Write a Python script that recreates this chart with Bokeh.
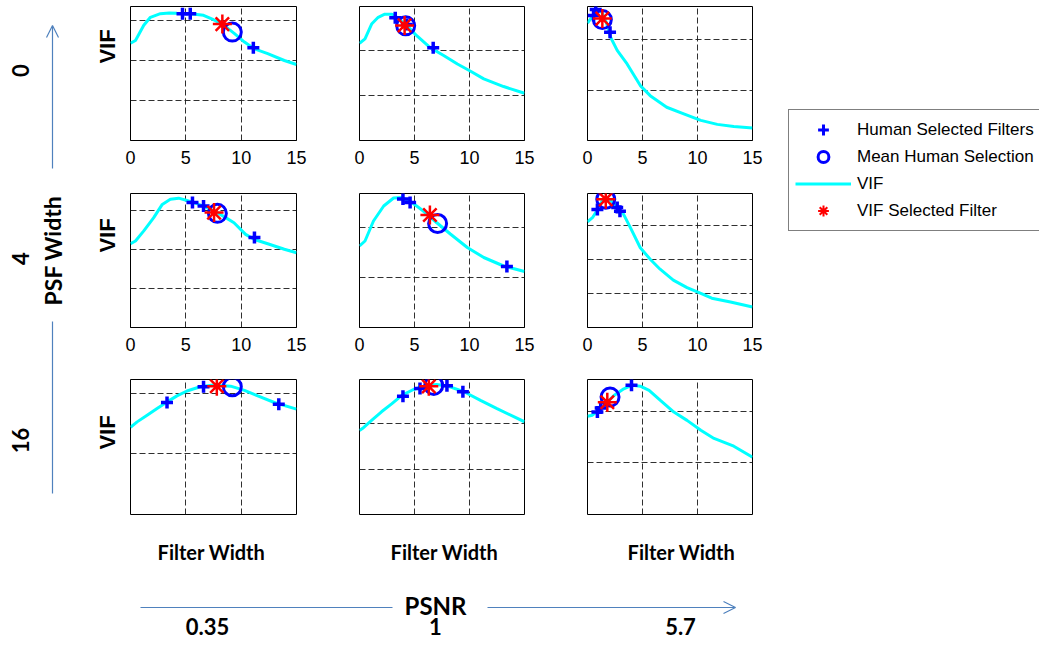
from bokeh.plotting import figure
from bokeh.layouts import row, column
from bokeh.models import Range1d, FixedTicker, Arrow, OpenHead, Legend, LegendItem
from bokeh.core.properties import value
from bokeh.embed import file_html
from bokeh.resources import INLINE

# ---------------- data ----------------
x_ticks = [0, 5, 10, 15]
psf_labels = ["0", "4", "16"]          # rows (PSF width)
psnr_labels = ["0.35", "1", "5.7"]     # columns (PSNR)
legend_labels = ["Human Selected Filters", "Mean Human Selection", "VIF", "VIF Selected Filter"]

# row 1 (PSF 0)
p11_vif_x = [0, 0.45, 1.2, 1.8, 2.7, 3.5, 4.2, 5.4, 6.6, 7.5, 8.45, 9.4, 10.3, 11.2, 12.4, 13.9, 15]
p11_vif_y = [2.43, 2.5, 2.88, 3.08, 3.17, 3.19, 3.18, 3.17, 3.13, 3.02, 2.88, 2.67, 2.46, 2.29, 2.17, 2.0, 1.9]
p11_human_x = [4.7, 5.4, 11.1]
p11_human_y = [3.17, 3.17, 2.32]
p11_mean = (9.2, 2.71)
p11_sel = (8.3, 2.91)

p12_vif_x = [0, 0.5, 1.1, 1.7, 2.3, 2.95, 3.4, 4.3, 5.2, 6.4, 7.65, 8.9, 10.1, 11.3, 13.1, 15]
p12_vif_y = [2.16, 2.26, 2.59, 2.74, 2.81, 2.81, 2.74, 2.56, 2.33, 2.07, 1.89, 1.70, 1.54, 1.37, 1.2, 1.05]
p12_human_x = [3.25, 4.3, 6.7]
p12_human_y = [2.73, 2.58, 2.06]
p12_mean = (4.2, 2.55)
p12_sel = (4.1, 2.56)

p13_vif_x = [0, 0.4, 0.9, 1.3, 1.7, 2.1, 2.7, 3.6, 4.8, 5.7, 7.2, 8.75, 10.3, 11.8, 13.3, 15]
p13_vif_y = [2.33, 2.45, 2.58, 2.55, 2.35, 2.05, 1.79, 1.52, 1.09, 0.89, 0.66, 0.53, 0.40, 0.32, 0.28, 0.25]
p13_human_x = [0.75, 0.55, 2.05]
p13_human_y = [2.6, 2.48, 2.15]
p13_mean = (1.35, 2.4)
p13_sel = (1.35, 2.42)

# row 2 (PSF 4)
p21_vif_x = [0, 0.45, 1.2, 2.1, 2.87, 3.6, 4.35, 5.1, 6.0, 6.8, 7.7, 8.6, 9.35, 10.4, 11.2, 12.4, 13.9, 15]
p21_vif_y = [2.15, 2.22, 2.48, 2.82, 3.16, 3.29, 3.32, 3.26, 3.18, 3.09, 2.97, 2.82, 2.69, 2.39, 2.26, 2.15, 2.01, 1.92]
p21_human_x = [5.6, 6.6, 11.2]
p21_human_y = [3.21, 3.12, 2.31]
p21_mean = (7.85, 2.93)
p21_sel = (7.55, 2.95)

p22_vif_x = [0, 0.5, 1.27, 2.2, 3.1, 3.85, 4.77, 5.8, 7.0, 8.26, 9.8, 11.3, 13.1, 15]
p22_vif_y = [1.63, 1.73, 2.13, 2.43, 2.59, 2.6, 2.5, 2.33, 2.1, 1.87, 1.6, 1.4, 1.23, 1.12]
p22_human_x = [3.95, 4.6, 13.4]
p22_human_y = [2.57, 2.5, 1.22]
p22_mean = (7.1, 2.08)
p22_sel = (6.4, 2.25)

p23_vif_x = [0, 0.45, 0.9, 1.3, 1.7, 2.2, 2.9, 3.2, 3.9, 4.8, 5.7, 6.6, 7.8, 9.05, 10.3, 11.3, 13.0, 15]
p23_vif_y = [3.1, 3.22, 3.45, 3.7, 3.8, 3.7, 3.45, 3.37, 2.93, 2.34, 2.0, 1.71, 1.39, 1.17, 1.0, 0.86, 0.75, 0.6]
p23_human_x = [0.9, 2.7, 2.95]
p23_human_y = [3.46, 3.52, 3.41]
p23_mean = (1.66, 3.76)
p23_sel = (1.66, 3.76)

# row 3 (PSF 16)
p31_vif_x = [0, 0.6, 1.5, 2.4, 3.3, 4.2, 5.1, 6.3, 7.5, 9.05, 10.3, 11.5, 13.0, 15]
p31_vif_y = [1.44, 1.53, 1.64, 1.75, 1.86, 1.96, 2.04, 2.11, 2.14, 2.12, 2.05, 1.96, 1.85, 1.74]
p31_human_x = [3.3, 6.6, 13.4]
p31_human_y = [1.85, 2.11, 1.82]
p31_mean = (9.2, 2.11)
p31_sel = (7.8, 2.12)

p32_vif_x = [0, 0.36, 1.1, 2.0, 2.95, 3.85, 4.9, 6.1, 7.0, 8.1, 9.5, 11.0, 12.5, 15]
p32_vif_y = [1.85, 1.91, 2.07, 2.26, 2.44, 2.62, 2.75, 2.84, 2.86, 2.82, 2.70, 2.51, 2.33, 2.04]
p32_human_x = [3.95, 5.5, 7.95, 9.4]
p32_human_y = [2.6, 2.77, 2.83, 2.70]
p32_mean = (6.75, 2.84)
p32_sel = (6.3, 2.82)

p33_vif_x = [0, 0.45, 0.9, 1.5, 2.4, 3.3, 4.07, 4.8, 5.6, 6.6, 7.85, 9.05, 10.3, 11.5, 13.3, 15]
p33_vif_y = [1.9, 1.92, 2.0, 2.11, 2.3, 2.43, 2.5, 2.48, 2.4, 2.21, 1.98, 1.82, 1.63, 1.47, 1.32, 1.11]
p33_human_x = [0.9, 1.2, 4.0]
p33_human_y = [1.98, 2.06, 2.5]
p33_mean = (2.05, 2.27)
p33_sel = (1.8, 2.17)

# y extent of each panel (grid spacing = 1 unit)
y_tops = [[3.35, 2.98, 2.66], [3.44, 2.68, 3.93], [2.23, 2.97, 2.61]]

panels = [
    [(p11_vif_x, p11_vif_y, p11_human_x, p11_human_y, p11_mean, p11_sel),
     (p12_vif_x, p12_vif_y, p12_human_x, p12_human_y, p12_mean, p12_sel),
     (p13_vif_x, p13_vif_y, p13_human_x, p13_human_y, p13_mean, p13_sel)],
    [(p21_vif_x, p21_vif_y, p21_human_x, p21_human_y, p21_mean, p21_sel),
     (p22_vif_x, p22_vif_y, p22_human_x, p22_human_y, p22_mean, p22_sel),
     (p23_vif_x, p23_vif_y, p23_human_x, p23_human_y, p23_mean, p23_sel)],
    [(p31_vif_x, p31_vif_y, p31_human_x, p31_human_y, p31_mean, p31_sel),
     (p32_vif_x, p32_vif_y, p32_human_x, p32_human_y, p32_mean, p32_sel),
     (p33_vif_x, p33_vif_y, p33_human_x, p33_human_y, p33_mean, p33_sel)],
]

# ---------------- styles ----------------
BLUE = "#0000FF"
RED = "#FF0000"
CYAN = "#00FFFF"
ARROW = "#4F81BD"
TICK_FONT = "Liberation Sans"
ANN_FONT = "Lato"
NAN = float("nan")

# layout geometry (pixels)
col_w = [208, 228, 212]
col_bl = [10, 31, 31]
col_br = [32, 32, 16]
row_h = [188, 187, 150]
row_bt = [6, 5, 4]
row_bb = [48, 48, 11]
LEFT_W = 120
LEG_W = 271
TOP_H = sum(row_h)
BOT_H = 114
TOTAL_W = LEFT_W + sum(col_w) + LEG_W


def make_panel(r, c):
    vx, vy, hx, hy, mean, sel = panels[r][c]
    ytop = y_tops[r][c]
    show_x = r < 2
    p = figure(width=col_w[c], height=row_h[r],
               x_range=Range1d(0, 15), y_range=Range1d(0, ytop),
               output_backend="svg", toolbar_location=None,
               x_axis_location="below" if show_x else None, y_axis_location=None,
               min_border=0, min_border_left=col_bl[c], min_border_right=col_br[c],
               min_border_top=row_bt[r], min_border_bottom=row_bb[r])
    p.background_fill_color = "white"
    p.border_fill_color = "white"
    p.outline_line_color = "black"
    p.outline_line_width = 1
    p.outline_line_alpha = 1
    p.xgrid.ticker = FixedTicker(ticks=[t for t in x_ticks if 0 < t < 15])
    p.ygrid.ticker = FixedTicker(ticks=[t for t in [1, 2, 3] if t < ytop - 0.05])
    for g in (p.xgrid, p.ygrid):
        g.grid_line_color = "#1a1a1a"
        g.grid_line_dash = "6 3"
        g.grid_line_width = 1
        g.grid_line_alpha = 0.9
    if show_x:
        ax = p.xaxis[0]
        ax.ticker = FixedTicker(ticks=x_ticks)
        ax.major_label_text_font = TICK_FONT
        ax.major_label_text_font_size = "18px"
        ax.major_label_text_color = "black"
        ax.major_tick_line_color = None
        ax.minor_tick_line_color = None
        ax.axis_line_color = "black"
        ax.major_label_standoff = 4
    p.line(vx, vy, line_color=CYAN, line_width=3)
    p.scatter(hx, hy, marker="cross", size=12, line_color=BLUE, line_width=3.5)
    p.scatter([mean[0]], [mean[1]], marker="circle", size=18, fill_color=None,
              line_color=BLUE, line_width=3)
    p.scatter([sel[0]], [sel[1]], marker="asterisk", size=19, line_color=RED, line_width=2.5)
    return p


grid_rows = [row(*[make_panel(r, c) for c in range(3)]) for r in range(3)]
panel_grid = column(*grid_rows)


def blank(width, height):
    p = figure(width=width, height=height, x_range=Range1d(0, width), y_range=Range1d(0, height),
               output_backend="svg", toolbar_location=None,
               x_axis_location=None, y_axis_location=None, min_border=0)
    p.grid.visible = False
    p.outline_line_color = None
    p.background_fill_color = "white"
    p.border_fill_color = "white"
    return p


# ---------------- left annotations ----------------
left = blank(LEFT_W, TOP_H)
ly = lambda cy: TOP_H - cy  # canvas y (down) -> data y (up)
left.text(x=[20, 20, 20], y=[ly(70), ly(258), ly(440)], text=psf_labels, angle=1.5708,
          text_font=value(ANN_FONT), text_font_style="bold", text_font_size="22px",
          text_align="center", text_baseline="middle", text_color="black")
left.text(x=[52], y=[ly(250)], text=["PSF Width"], angle=1.5708,
          text_font=value(ANN_FONT), text_font_style="bold", text_font_size="23px",
          text_align="center", text_baseline="middle", text_color="black")
left.text(x=[107, 107, 107], y=[ly(46), ly(235), ly(432)], text=["VIF", "VIF", "VIF"], angle=1.5708,
          text_font=value(TICK_FONT), text_font_style="bold", text_font_size="22px",
          text_align="center", text_baseline="middle", text_color="black")
left.add_layout(Arrow(x_start=52, y_start=ly(168), x_end=52, y_end=ly(25),
                      line_color=ARROW, line_width=1.2,
                      end=OpenHead(size=12, line_color=ARROW, line_width=1.2)))
left.segment(x0=[52], y0=[ly(321)], x1=[52], y1=[ly(493)], line_color=ARROW, line_width=1.2)

# ---------------- legend ----------------
leg = blank(LEG_W, TOP_H)
r_h = leg.scatter(x=[NAN], y=[NAN], marker="cross", size=11, line_color=BLUE, line_width=3)
r_m = leg.scatter(x=[NAN], y=[NAN], marker="circle", size=15, fill_color=None, line_color=BLUE, line_width=3)
r_v = leg.line(x=[NAN], y=[NAN], line_color=CYAN, line_width=3)
r_s = leg.scatter(x=[NAN], y=[NAN], marker="asterisk", size=16, line_color=RED, line_width=2)
legend = Legend(items=[LegendItem(label=legend_labels[0], renderers=[r_h]),
                       LegendItem(label=legend_labels[1], renderers=[r_m]),
                       LegendItem(label=legend_labels[2], renderers=[r_v]),
                       LegendItem(label=legend_labels[3], renderers=[r_s])],
                location=(20, TOP_H - 111 - 120), margin=0, padding=6, spacing=0,
                glyph_width=56, glyph_height=27, label_height=20, label_standoff=6,
                label_text_font=TICK_FONT, label_text_font_size="17px", label_text_color="black",
                border_line_color="black", border_line_width=1, background_fill_color="white",
                background_fill_alpha=1)
leg.add_layout(legend)

# ---------------- bottom annotations ----------------
bot = blank(TOTAL_W, BOT_H)
by = lambda cy: TOP_H + BOT_H - cy
bot.text(x=[211, 444, 681], y=[by(551)] * 3, text=["Filter Width"] * 3,
         text_font=value(ANN_FONT), text_font_style="bold", text_font_size="20px",
         text_align="center", text_baseline="middle", text_color="black")
bot.text(x=[435], y=[by(605)], text=["PSNR"],
         text_font=value(ANN_FONT), text_font_style="bold", text_font_size="24px",
         text_align="center", text_baseline="middle", text_color="black")
bot.text(x=[207, 435, 680], y=[by(626)] * 3, text=psnr_labels,
         text_font=value(ANN_FONT), text_font_style="bold", text_font_size="22px",
         text_align="center", text_baseline="middle", text_color="black")
bot.segment(x0=[140], y0=[by(607)], x1=[392], y1=[by(607)], line_color=ARROW, line_width=1.2)
bot.add_layout(Arrow(x_start=487, y_start=by(607), x_end=735, y_end=by(607),
                     line_color=ARROW, line_width=1.2,
                     end=OpenHead(size=12, line_color=ARROW, line_width=1.2)))

root = column(row(left, panel_grid, leg), bot)
open("out.html", "w").write(file_html(root, INLINE))
